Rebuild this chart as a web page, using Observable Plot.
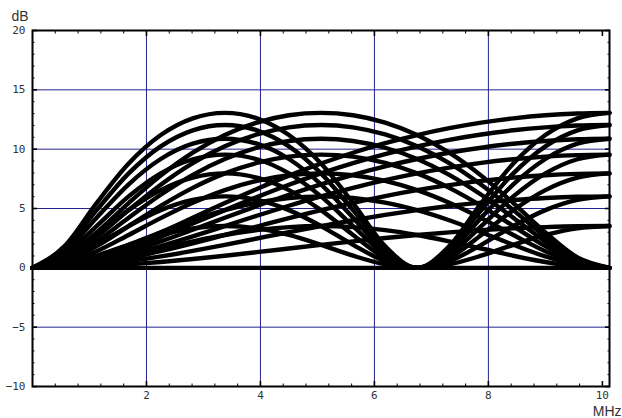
<!DOCTYPE html>
<html><head><meta charset="utf-8">
<script src="https://cdn.jsdelivr.net/npm/d3@7"></script>
<script src="https://cdn.jsdelivr.net/npm/@observablehq/plot@0.6"></script>
<style>html,body{margin:0;padding:0;background:#fff}svg{display:block}</style>
</head><body><div id="chart"></div>
<script>
// frequency grid (MHz)
const freq = [0,0.5625,1.125,1.6875,2.25,2.8125,3.375,3.9375,4.5,5.0625,5.625,6.1875,6.75,7.3125,7.875,8.4375,9,9.5625,10.125];

// curves peaking at ~3.4 MHz (dB)
const p3_13 = [0,1.83,5.46,8.79,11.19,12.60,13.06,12.60,11.19,8.79,5.46,1.83,0,1.83,5.46,8.79,11.19,12.60,13.06];
const p3_12 = [0,1.59,4.86,7.96,10.24,11.59,12.04,11.59,10.24,7.96,4.86,1.59,0,1.59,4.86,7.96,10.24,11.59,12.04];
const p3_11 = [0,1.34,4.22,7.04,9.17,10.46,10.88,10.46,9.17,7.04,4.22,1.34,0,1.34,4.22,7.04,9.17,10.46,10.88];
const p3_10 = [0,1.09,3.52,6.02,7.96,9.15,9.54,9.15,7.96,6.02,3.52,1.09,0,1.09,3.52,6.02,7.96,9.15,9.54];
const p3_8  = [0,0.83,2.77,4.86,6.55,7.60,7.96,7.60,6.55,4.86,2.77,0.83,0,0.83,2.77,4.86,6.55,7.60,7.96];
const p3_6  = [0,0.56,1.94,3.52,4.86,5.72,6.02,5.72,4.86,3.52,1.94,0.56,0,0.56,1.94,3.52,4.86,5.72,6.02];
const p3_4  = [0,0.29,1.02,1.94,2.77,3.33,3.52,3.33,2.77,1.94,1.02,0.29,0,0.29,1.02,1.94,2.77,3.33,3.52];

// curves peaking at ~5.1 MHz (dB)
const p5_13 = [0,0.87,2.98,5.46,7.77,9.70,11.19,12.24,12.86,13.06,12.86,12.24,11.19,9.70,7.77,5.46,2.98,0.87,0];
const p5_12 = [0,0.75,2.61,4.86,7.00,8.82,10.24,11.24,11.84,12.04,11.84,11.24,10.24,8.82,7.00,4.86,2.61,0.75,0];
const p5_11 = [0,0.63,2.23,4.22,6.16,7.84,9.17,10.12,10.69,10.88,10.69,10.12,9.17,7.84,6.16,4.22,2.23,0.63,0];
const p5_10 = [0,0.51,1.83,3.52,5.23,6.74,7.96,8.84,9.37,9.54,9.37,8.84,7.96,6.74,5.23,3.52,1.83,0.51,0];
const p5_8  = [0,0.38,1.40,2.77,4.19,5.48,6.55,7.33,7.80,7.96,7.80,7.33,6.55,5.48,4.19,2.77,1.40,0.38,0];
const p5_6  = [0,0.26,0.96,1.94,3.00,4.01,4.86,5.50,5.89,6.02,5.89,5.50,4.86,4.01,3.00,1.94,0.96,0.26,0];
const p5_4  = [0,0.13,0.49,1.02,1.63,2.23,2.77,3.18,3.43,3.52,3.43,3.18,2.77,2.23,1.63,1.02,0.49,0.13,0];

// curves rising to ~10.1 MHz (dB)
const p10_13 = [0,0.23,0.87,1.83,2.98,4.22,5.46,6.65,7.77,8.79,9.70,10.50,11.19,11.77,12.24,12.60,12.86,13.01,13.06];
const p10_12 = [0,0.20,0.75,1.59,2.61,3.73,4.86,5.96,7.00,7.96,8.82,9.58,10.24,10.79,11.24,11.59,11.84,11.99,12.04];
const p10_11 = [0,0.16,0.63,1.34,2.23,3.21,4.22,5.21,6.16,7.04,7.84,8.55,9.17,9.70,10.12,10.46,10.69,10.83,10.88];
const p10_10 = [0,0.13,0.51,1.09,1.83,2.65,3.52,4.39,5.23,6.02,6.74,7.39,7.96,8.44,8.84,9.15,9.37,9.50,9.54];
const p10_8  = [0,0.10,0.38,0.83,1.40,2.06,2.77,3.48,4.19,4.86,5.48,6.05,6.55,6.97,7.33,7.60,7.80,7.92,7.96];
const p10_6  = [0,0.07,0.26,0.56,0.96,1.43,1.94,2.47,3.00,3.52,4.01,4.46,4.86,5.21,5.50,5.72,5.89,5.99,6.02];
const p10_4  = [0,0.03,0.13,0.29,0.49,0.74,1.02,1.32,1.63,1.94,2.23,2.51,2.77,2.99,3.18,3.33,3.43,3.50,3.52];

// flat reference
const flat = [0,0,0,0,0,0,0,0,0,0,0,0,0,0,0,0,0,0,0];

// tick labels
const xTicks = [2,4,6,8,10];
const yTicks = [-10,-5,0,5,10,15,20];
const xGrid = [2,4,6,8];
const yGrid = [-5,0,5,10,15];

const seriesList = {p3_13,p3_12,p3_11,p3_10,p3_8,p3_6,p3_4,
  p5_13,p5_12,p5_11,p5_10,p5_8,p5_6,p5_4,
  p10_13,p10_12,p10_11,p10_10,p10_8,p10_6,p10_4,flat};
const rows = Object.entries(seriesList).flatMap(([id, vals]) =>
  freq.map((f, i) => ({id, f, db: vals[i]})));

const xMinor = d3.range(1, 26).filter(i => i % 5 !== 0).map(i => i * 0.4);
const yMinor = d3.range(-9, 20).filter(v => v % 5 !== 0);

const navy = "#23238f";
const ink = "#333";
const fmt = d => d < 0 ? "\u2212" + (-d) : String(d);
const tickFont = {fontFamily: "DejaVu Sans Mono", fontSize: 11};

const chart = Plot.plot({
  width: 622,
  height: 418,
  marginLeft: 32,
  marginRight: 13,
  marginTop: 30,
  marginBottom: 32,
  style: {background: "#fff", color: ink},
  x: {domain: [0, 10.125]},
  y: {domain: [-10, 20]},
  marks: [
    Plot.gridX(xGrid, {stroke: navy, strokeOpacity: 1, strokeWidth: 1}),
    Plot.gridY(yGrid, {stroke: navy, strokeOpacity: 1, strokeWidth: 1}),
    Plot.line(rows, {x: "f", y: "db", z: "id", curve: "monotone-x", stroke: "black", strokeWidth: 4.4, strokeLinecap: "round"}),
    Plot.frame({stroke: "black", strokeWidth: 2}),
    // inward ticks on all four sides
    Plot.axisX(xTicks, {anchor: "bottom", tickSize: -5, strokeWidth: 1.6, stroke: "black", fill: "none", label: null}),
    Plot.axisX(xMinor, {anchor: "bottom", tickSize: -2.5, strokeWidth: 1, stroke: "black", fill: "none", label: null}),
    Plot.axisX(xTicks, {anchor: "top", tickSize: -5, strokeWidth: 1.6, stroke: "black", fill: "none", label: null}),
    Plot.axisX(xMinor, {anchor: "top", tickSize: -2.5, strokeWidth: 1, stroke: "black", fill: "none", label: null}),
    Plot.axisY(yTicks, {anchor: "left", tickSize: -5, strokeWidth: 1.6, stroke: "black", fill: "none", label: null}),
    Plot.axisY(yMinor, {anchor: "left", tickSize: -2.5, strokeWidth: 1, stroke: "black", fill: "none", label: null}),
    Plot.axisY(yTicks, {anchor: "right", tickSize: -5, strokeWidth: 1.6, stroke: "black", fill: "none", label: null}),
    Plot.axisY(yMinor, {anchor: "right", tickSize: -2.5, strokeWidth: 1, stroke: "black", fill: "none", label: null}),
    // tick labels
    Plot.axisX(xTicks, {anchor: "bottom", tickSize: 0, tickPadding: 5, tickFormat: fmt, fill: ink, label: null, ...tickFont}),
    Plot.axisY(yTicks, {anchor: "left", tickSize: 0, tickPadding: 7, tickFormat: fmt, fill: ink, label: null, ...tickFont}),
    // unit labels
    Plot.text(["dB"], {frameAnchor: "top-left", dx: -21, dy: -10, textAnchor: "start", lineAnchor: "bottom", fontFamily: "Liberation Sans", fontSize: 14, fill: ink}),
    Plot.text(["MHz"], {frameAnchor: "bottom-right", dx: 12, dy: 29, textAnchor: "end", lineAnchor: "bottom", fontFamily: "Liberation Sans", fontSize: 14, fill: ink})
  ]
});
document.getElementById("chart").appendChild(chart);
</script>
</body></html>
